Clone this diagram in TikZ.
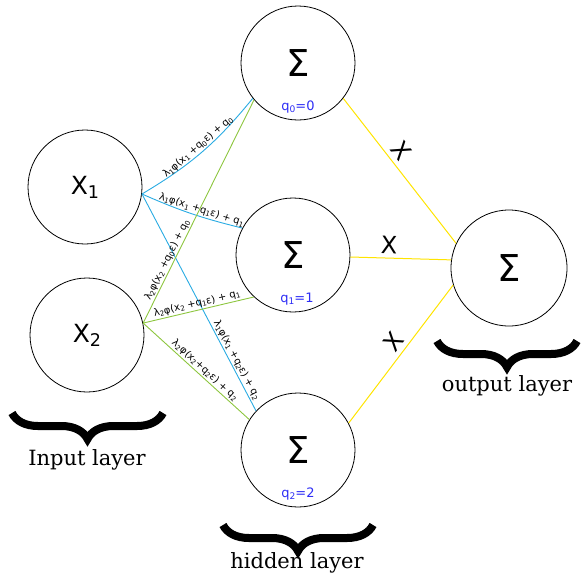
\documentclass[tikz,border=0pt]{standalone}
\usepackage{fontspec}
\setmainfont{DejaVu Serif}
\newfontfamily\symfont{DejaVu Sans}
\usetikzlibrary{decorations.pathreplacing}
\definecolor{wblue}{RGB}{41,171,226}
\definecolor{wgreen}{RGB}{141,198,63}
\definecolor{wyellow}{RGB}{255,228,0}
\definecolor{qblue}{RGB}{45,45,245}
% lowered, reduced index digit
\newcommand\lowsub[1]{\raisebox{-0.3ex}{\scalebox{0.7}{#1}}}

\begin{document}
\begin{tikzpicture}[x=1pt,y=-1pt,
  neuron/.style={draw, circle, line width=0.8pt, minimum size=114pt, inner sep=0pt,
                 font=\symfont\fontsize{25}{25}\selectfont},
  sumnode/.style={neuron, font=\symfont\fontsize{37}{37}\selectfont},
  outnode/.style={sumnode, minimum size=116pt},
  qlabel/.style={text=qblue, font=\symfont\fontsize{13}{13}\selectfont, inner sep=0pt},
  wlabel/.style={sloped, above, font=\symfont\fontsize{10}{11}\selectfont, inner sep=1.2pt},
  edgex/.style={sloped, above, font=\symfont\fontsize{24}{24}\selectfont, inner sep=4pt},
  blueedge/.style={draw=wblue, line width=0.9pt},
  greenedge/.style={draw=wgreen, line width=0.9pt},
  yellowedge/.style={draw=wyellow, line width=1pt},
  layerbrace/.style={draw, line width=8pt, decorate,
                     decoration={brace, amplitude=26pt}},
  layertext/.style={anchor=base, font=\fontsize{21}{21}\selectfont, inner sep=0pt}
]
\useasboundingbox (0,0) rectangle (583,576);

% input neurons
\node[neuron] (x1) at (85,187) {X\lowsub{1}};
\node[neuron] (x2) at (87,335) {X\lowsub{2}};

% hidden summation neurons with their offsets
\node[sumnode] (s0) at (298,63) {Σ};
\node[sumnode] (s1) at (293,255) {Σ};
\node[sumnode] (s2) at (298,450) {Σ};
\node[qlabel] (q0) at (298,107) {q\lowsub{0}=0};
\node[qlabel] (q1) at (297,299) {q\lowsub{1}=1};
\node[qlabel] (q2) at (298,494) {q\lowsub{2}=2};

% output neuron
\node[outnode] (out) at (509,268) {Σ};

% weighted connections from the first input
\draw[blueedge] (x1.-7) to[bend right=10]
  node[wlabel, pos=0.5] {λ\lowsub{1}φ(x\lowsub{1} +q\lowsub{0}ε) + q\lowsub{0}} (s0.-142);
\draw[blueedge] (x1.-7) to[bend right=5]
  node[wlabel, pos=0.59] {λ\lowsub{1}φ(x\lowsub{1} +q\lowsub{1}ε) + q\lowsub{1}} (s1.152);
\draw[blueedge] (x1.-7) --
  node[wlabel, pos=0.78] {λ\lowsub{1}φ(x\lowsub{1} +q\lowsub{2}ε) + q\lowsub{2}} (s2.137);

% weighted connections from the second input
\draw[greenedge] (x2.12) --
  node[wlabel, pos=0.27] {λ\lowsub{2}φ(x\lowsub{2} +q\lowsub{0}ε) + q\lowsub{0}} (s0.-140);
\draw[greenedge] (x2.12) --
  node[wlabel, pos=0.5] {λ\lowsub{2}φ(x\lowsub{2} +q\lowsub{1}ε) + q\lowsub{1}} (s1.-133);
\draw[greenedge] (x2.12) --
  node[wlabel, pos=0.54] {λ\lowsub{2}φ(x\lowsub{2}+q\lowsub{2}ε) + q\lowsub{2}} (s2.148);

% connections into the output neuron
\draw[yellowedge] (s0.-38) -- node[edgex, pos=0.42] {X} (out.155);
\draw[yellowedge] (s1.-2) -- node[edgex, pos=0.38] {X} (out.172);
\draw[yellowedge] (s2.28) -- node[edgex, pos=0.53] {X} (out.-163);

% layer braces and captions
\draw[layerbrace] (163,413) -- (12,413);
\draw[layerbrace] (373,525) -- (223,525);
\draw[layerbrace] (577,341) -- (437,341);
\node[layertext] (inlayer) at (87,465) {Input layer};
\node[layertext] (hidlayer) at (297,568) {hidden layer};
\node[layertext] (outlayer) at (507,391) {output layer};
\end{tikzpicture}
\end{document}
